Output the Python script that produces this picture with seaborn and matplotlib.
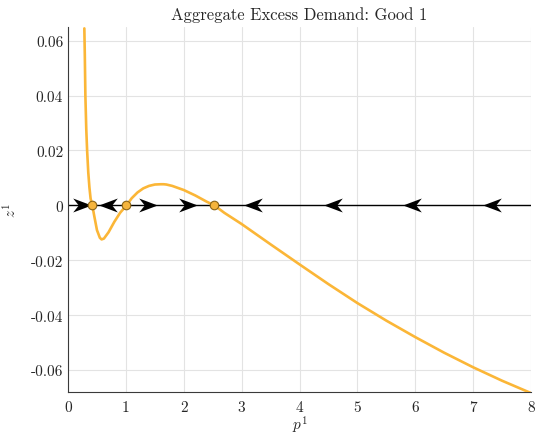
import numpy as np
import pandas as pd
import matplotlib
matplotlib.use("Agg")
import matplotlib.pyplot as plt
from matplotlib.path import Path
import seaborn as sns

# ---- data ----
price = [0.282, 0.29, 0.30, 0.315, 0.33, 0.35, 0.37, 0.39, 0.42, 0.45, 0.50, 0.55,
         0.58, 0.62, 0.70, 0.80, 0.90, 1.01, 1.10, 1.20, 1.30, 1.40, 1.50, 1.60,
         1.65, 1.70, 1.80, 2.00, 2.20, 2.40, 2.53, 2.70, 3.00, 3.50, 4.00, 4.50,
         5.00, 5.50, 6.00, 6.50, 7.00, 7.50, 8.00]
excess = [0.0645, 0.055, 0.040, 0.028, 0.020, 0.012, 0.0065, 0.0025, 0.0, -0.0035,
          -0.0090, -0.0118, -0.0124, -0.0121, -0.0098, -0.0060, -0.0027, 0.0,
          0.0026, 0.0047, 0.0062, 0.0071, 0.0076, 0.0077, 0.0077, 0.0076, 0.0071,
          0.0056, 0.0036, 0.0013, 0.0, -0.0027, -0.0068, -0.0142, -0.0215, -0.0287,
          -0.0356, -0.0420, -0.0480, -0.0537, -0.0590, -0.0639, -0.0684]
equilibria = [0.41, 1.01, 2.53]
arrows_right = [0.24, 1.38, 2.07]
arrows_left = [0.69, 3.20, 4.58, 5.94, 7.33]
xticks = [0, 1, 2, 3, 4, 5, 6, 7, 8]
yticks = [-0.06, -0.04, -0.02, 0, 0.02, 0.04, 0.06]
ytick_labels = ["-0.06", "-0.04", "-0.02", "0", "0.02", "0.04", "0.06"]

sns.set_style("white")
plt.rcParams["font.family"] = ["serif"]
plt.rcParams["font.serif"] = ["cmr10", "DejaVu Serif"]
plt.rcParams["mathtext.fontset"] = "cm"
plt.rcParams["axes.unicode_minus"] = False

fig = plt.figure(figsize=(5.36, 4.35), dpi=100)
ax = fig.add_axes([0.1269, 0.0966, 0.8638, 0.839])

ax.set_axisbelow(True)
ax.grid(True, color="#e3e3e3", linewidth=0.8)

ax.axhline(0, color="black", linewidth=1.0, zorder=2)

df = pd.DataFrame({"p": price, "z": excess})
sns.lineplot(data=df, x="p", y="z", ax=ax, color="#FBB637", linewidth=1.9,
             sort=False, zorder=3)

# arrowhead marker (stealth shape)
verts = [(1.0, 0.0), (-1.0, 0.75), (-0.4, 0.0), (-1.0, -0.75), (1.0, 0.0)]
codes = [Path.MOVETO, Path.LINETO, Path.LINETO, Path.LINETO, Path.CLOSEPOLY]
right_marker = Path(verts, codes)
left_marker = Path([(-x, y) for x, y in verts], codes)

sns.scatterplot(x=arrows_right, y=[0] * len(arrows_right), ax=ax, marker=right_marker,
                s=180, color="black", edgecolor="black", linewidth=0, zorder=4)
sns.scatterplot(x=arrows_left, y=[0] * len(arrows_left), ax=ax, marker=left_marker,
                s=180, color="black", edgecolor="black", linewidth=0, zorder=4)
sns.scatterplot(x=equilibria, y=[0] * len(equilibria), ax=ax, marker="o", s=38,
                color="#F5B43C", edgecolor="#8a6417", linewidth=0.8, zorder=5)

ax.set_xlim(0, 8)
ax.set_ylim(-0.068, 0.065)
ax.set_xticks(xticks)
ax.set_xticklabels([str(t) for t in xticks])
ax.set_yticks(yticks)
ax.set_yticklabels(ytick_labels)
ax.tick_params(direction="in", length=4, width=0.8, colors="#262626",
               labelsize=11, labelcolor="#262626")
ax.tick_params(axis="x", pad=6)

for s in ["top", "right"]:
    ax.spines[s].set_visible(False)
for s in ["left", "bottom"]:
    ax.spines[s].set_color("#3a3a3a")
    ax.spines[s].set_linewidth(0.8)

ax.set_xlabel(r"$p^1$", fontsize=11, labelpad=0)
ax.set_ylabel(r"$z^1$", fontsize=11, labelpad=8)
ax.set_title("Aggregate Excess Demand: Good 1", fontsize=12, pad=6)

fig.savefig("out.png", dpi=100)
